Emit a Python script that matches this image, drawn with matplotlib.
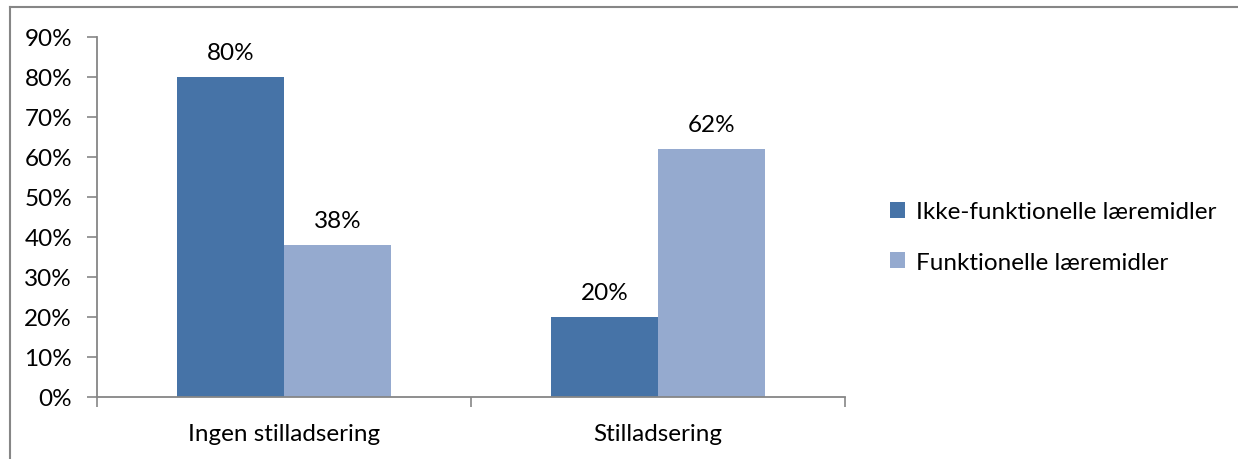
import matplotlib
matplotlib.use("Agg")
import matplotlib.pyplot as plt
from matplotlib.lines import Line2D
from matplotlib.ticker import FuncFormatter

categories = ["Ingen stilladsering", "Stilladsering"]
series_names = ["Ikke-funktionelle læremidler", "Funktionelle læremidler"]
ikke_funktionelle = [80, 20]
funktionelle = [38, 62]
y_ticks = [0, 10, 20, 30, 40, 50, 60, 70, 80, 90]

plt.rcParams["font.family"] = ["Lato", "DejaVu Sans"]
FS = 17.5
DARK = "#4673A7"
LIGHT = "#95AACF"
AXIS = "#868686"

W, H = 1238, 460
fig = plt.figure(figsize=(W / 100, H / 100), dpi=100)
ax = fig.add_axes([97 / W, 1 - 398 / H, (845 - 97) / W, (398 - 38) / H])

bar_w = 0.286
xs = list(range(len(categories)))
b1 = ax.bar([x - bar_w / 2 for x in xs], ikke_funktionelle, width=bar_w,
            color=DARK, label=series_names[0], zorder=2)
b2 = ax.bar([x + bar_w / 2 for x in xs], funktionelle, width=bar_w,
            color=LIGHT, label=series_names[1], zorder=2)

for bars, vals in ((b1, ikke_funktionelle), (b2, funktionelle)):
    for rect, v in zip(bars, vals):
        ax.annotate(f"{v}%", (rect.get_x() + rect.get_width() / 2, v),
                    xytext=(0, 10), textcoords="offset points",
                    ha="center", va="bottom", fontsize=FS, color="black")

ax.set_xlim(-0.5, len(categories) - 0.5)
ax.set_ylim(0, 90)
ax.set_yticks(y_ticks)
ax.yaxis.set_major_formatter(FuncFormatter(lambda v, p: f"{int(v)}%"))

# category labels centred, tick marks between categories
ax.set_xticks([i - 0.5 for i in range(len(categories) + 1)])
ax.set_xticklabels([])
ax.set_xticks(xs, minor=True)
ax.set_xticklabels(categories, minor=True, fontsize=FS)
ax.tick_params(axis="x", which="minor", length=0, pad=19)
ax.tick_params(axis="x", which="major", length=7, width=1.2, color=AXIS, direction="out")
ax.tick_params(axis="y", length=7, width=1.2, color=AXIS, direction="out",
               labelsize=FS, pad=11)

for side in ("top", "right"):
    ax.spines[side].set_visible(False)
for side in ("left", "bottom"):
    ax.spines[side].set_color(AXIS)
    ax.spines[side].set_linewidth(1.3)

leg = fig.legend(handles=[b1, b2], labels=series_names, loc="center left",
                 bbox_to_anchor=(880 / W, 1 - 238 / H), frameon=False,
                 fontsize=FS, handlelength=0.62, handleheight=0.62,
                 handletextpad=0.45, labelspacing=1.2, borderaxespad=0)

# chart frame
fig.add_artist(Line2D([10 / W, 1], [1 - 8 / H, 1 - 8 / H], color=AXIS, lw=1.5,
                      transform=fig.transFigure))
fig.add_artist(Line2D([10 / W, 10 / W], [0, 1 - 8 / H], color=AXIS, lw=1.5,
                      transform=fig.transFigure))

fig.savefig("out.png", dpi=100, facecolor="white")
